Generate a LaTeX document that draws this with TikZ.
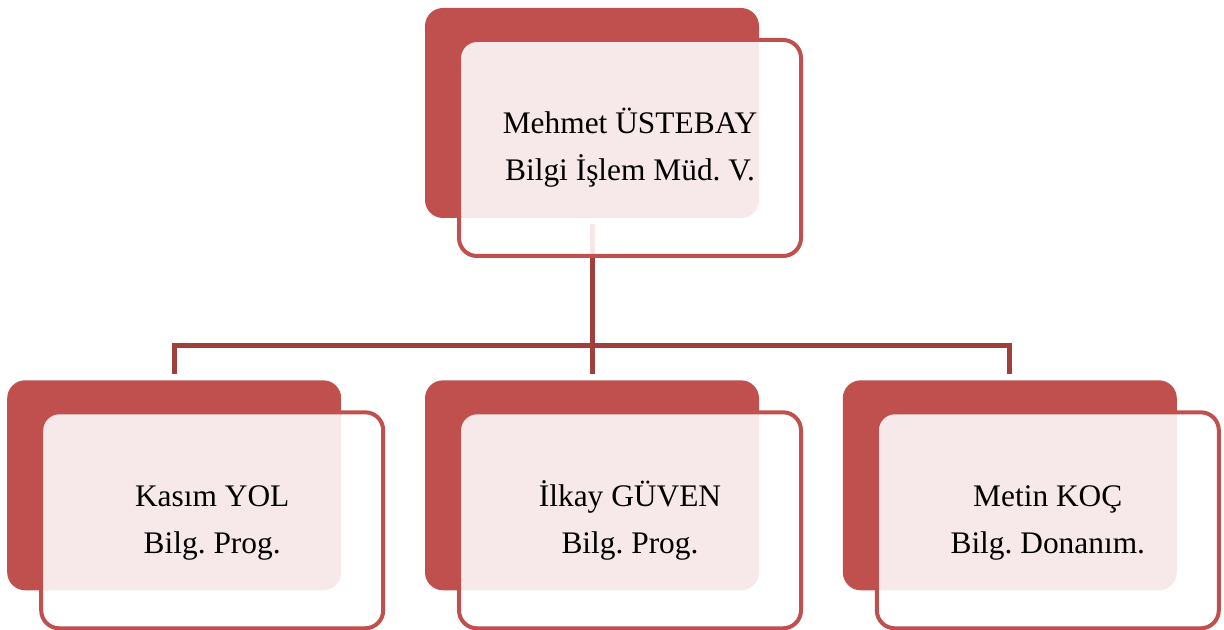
\documentclass[tikz,border=0pt]{standalone}
\usepackage{fontspec}
\setmainfont{Liberation Serif}
\usepackage{tikz}
\usetikzlibrary{shapes,positioning,backgrounds}

\definecolor{cardred}{RGB}{192,80,77}
\definecolor{linkred}{RGB}{160,64,61}

\tikzset{
    back/.style={fill=cardred, rounded corners=9pt,
        minimum width=167pt, minimum height=105pt},
    card/.style={draw=cardred, line width=2pt, rounded corners=9pt,
        fill=white, fill opacity=0.88, text opacity=1,
        minimum width=171pt, minimum height=108pt, align=center,
        font=\fontsize{15.7}{23.5}\selectfont\frenchspacing},
    link/.style={draw=linkred, line width=2.5pt, shorten <=3pt, shorten >=3pt}
}

\begin{document}
\begin{tikzpicture}

\useasboundingbox (0,0) rectangle (612pt,-315pt);

\node[back] (back1) at (296pt,-56.5pt) {};

\node[back,
    below=80.75pt of back1
] (back3) {};

\node[back,
    left=41.5pt of back3
] (back2) {};

\node[back,
    right=41.5pt of back3
] (back4) {};

\node[card,
    xshift=19pt, yshift=-17.5pt
] (block1) at (back1.center) { \strut Mehmet ÜSTEBAY\\\strut Bilgi İşlem Müd. V. };

\node[card,
    xshift=19pt, yshift=-17.5pt
] (block2) at (back2.center) { \strut Kasım YOL\\\strut Bilg. Prog. };

\node[card,
    xshift=19pt, yshift=-17.5pt
] (block3) at (back3.center) { \strut İlkay GÜVEN\\\strut Bilg. Prog. };

\node[card,
    xshift=19pt, yshift=-17.5pt
] (block4) at (back4.center) { \strut Metin KOÇ\\\strut Bilg. Donanım. };

\coordinate[below=63.5pt of back1.south] (bus);

\begin{pgfonlayer}{background}
\draw[link] (back1.south) -- (back1.south |- back3.north);
\draw[link] (back2.north) |- (bus) -| (back4.north);
\end{pgfonlayer}

\end{tikzpicture}
\end{document}
